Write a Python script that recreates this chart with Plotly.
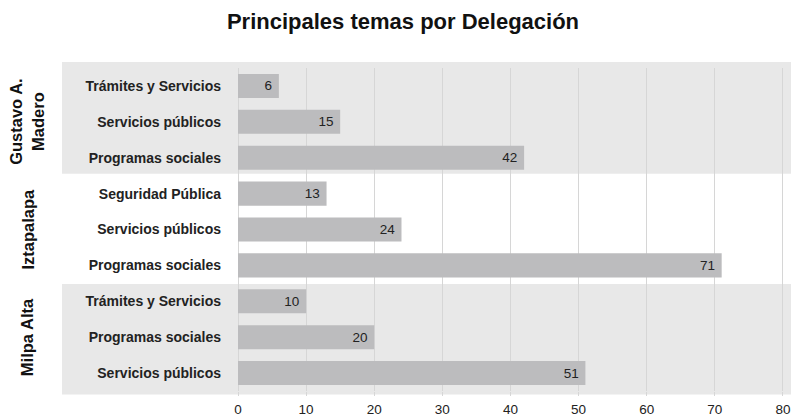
import plotly.graph_objects as go

# Data (top to bottom)
delegaciones = ["Gustavo A.<br>Madero", "Iztapalapa", "Milpa Alta"]
temas = [
    "Trámites y Servicios", "Servicios públicos", "Programas sociales",
    "Seguridad Pública", "Servicios públicos", "Programas sociales",
    "Trámites y Servicios", "Programas sociales", "Servicios públicos",
]
valores = [6, 15, 42, 13, 24, 71, 10, 20, 51]
grupo = [0, 0, 0, 1, 1, 1, 2, 2, 2]

FONT = "Liberation Sans, Arial, Helvetica, sans-serif"
n_rows = len(valores)
posiciones = list(range(n_rows))

# plot area (px): x 238..784, y 68..391
M_L, M_R, M_T, M_B = 238, 7, 68, 27
plot_w = 791 - M_L - M_R
# band edges in row units (bands stick out a little past the rows)
band_edges = [-0.67, 2.45, 5.52, 8.6]


def row_to_paper(r):
    return 1 - (r + 0.5) / n_rows


fig = go.Figure(
    go.Bar(
        x=valores,
        y=posiciones,
        orientation="h",
        marker=dict(color="#bcbcbe", line=dict(width=0)),
        text=[str(v) + " " for v in valores],
        textposition="inside",
        insidetextanchor="end",
        textfont=dict(family=FONT, size=13.5, color="#222222"),
        hoverinfo="skip",
    )
)

# Shaded bands behind every other delegation, plus rotated group labels
for g, nombre in enumerate(delegaciones):
    top = row_to_paper(band_edges[g])
    bottom = row_to_paper(band_edges[g + 1])
    if g % 2 == 0:
        fig.add_shape(
            type="rect", xref="paper", yref="paper",
            x0=(62 - M_L) / plot_w, x1=1.05, y0=bottom, y1=top,
            fillcolor="#e8e8e8", line=dict(width=0), layer="below",
        )
    filas = [i for i, gr in enumerate(grupo) if gr == g]
    fig.add_annotation(
        text=f"<b>{nombre}</b>", xref="paper", yref="paper",
        x=(27 - M_L) / plot_w, y=row_to_paper(sum(filas) / len(filas)),
        textangle=-90, showarrow=False, xanchor="center", yanchor="middle",
        font=dict(family=FONT, size=16.5, color="#111111"),
    )

fig.update_layout(
    width=791,
    height=418,
    margin=dict(l=M_L, r=M_R, t=M_T, b=M_B),
    paper_bgcolor="white",
    plot_bgcolor="rgba(0,0,0,0)",
    title=dict(
        text="<b>Principales temas por Delegación</b>",
        x=403 / 791, xref="container", xanchor="center",
        y=1 - 21 / 418, yref="container", yanchor="middle",
        font=dict(family=FONT, size=22, color="#111111"),
    ),
    bargap=0.33,
    showlegend=False,
    font=dict(family=FONT),
)

fig.update_xaxes(
    range=[0, 80.15],
    tickvals=list(range(0, 81, 10)),
    showgrid=True,
    gridcolor="#d6d6d6",
    gridwidth=1,
    zeroline=True,
    zerolinecolor="#d6d6d6",
    zerolinewidth=1,
    showline=False,
    ticks="outside",
    ticklen=4,
    tickcolor="#d6d6d6",
    ticklabelstandoff=2,
    automargin=False,
    tickfont=dict(family=FONT, size=13.5, color="#222222"),
    fixedrange=True,
)

fig.update_yaxes(
    range=[n_rows - 0.5, -0.5],
    tickvals=posiciones,
    ticktext=[f"<b>{t}</b>" for t in temas],
    ticklabelstandoff=16,
    showgrid=False,
    zeroline=False,
    showline=False,
    automargin=False,
    tickfont=dict(family=FONT, size=14, color="#222222"),
    fixedrange=True,
)

# drop the default 8px body margin so the figure fills the window exactly
fig.write_html(
    "out.html",
    config={"displayModeBar": False},
    post_script="document.body.style.margin='0';document.body.style.overflow='hidden';",
)
